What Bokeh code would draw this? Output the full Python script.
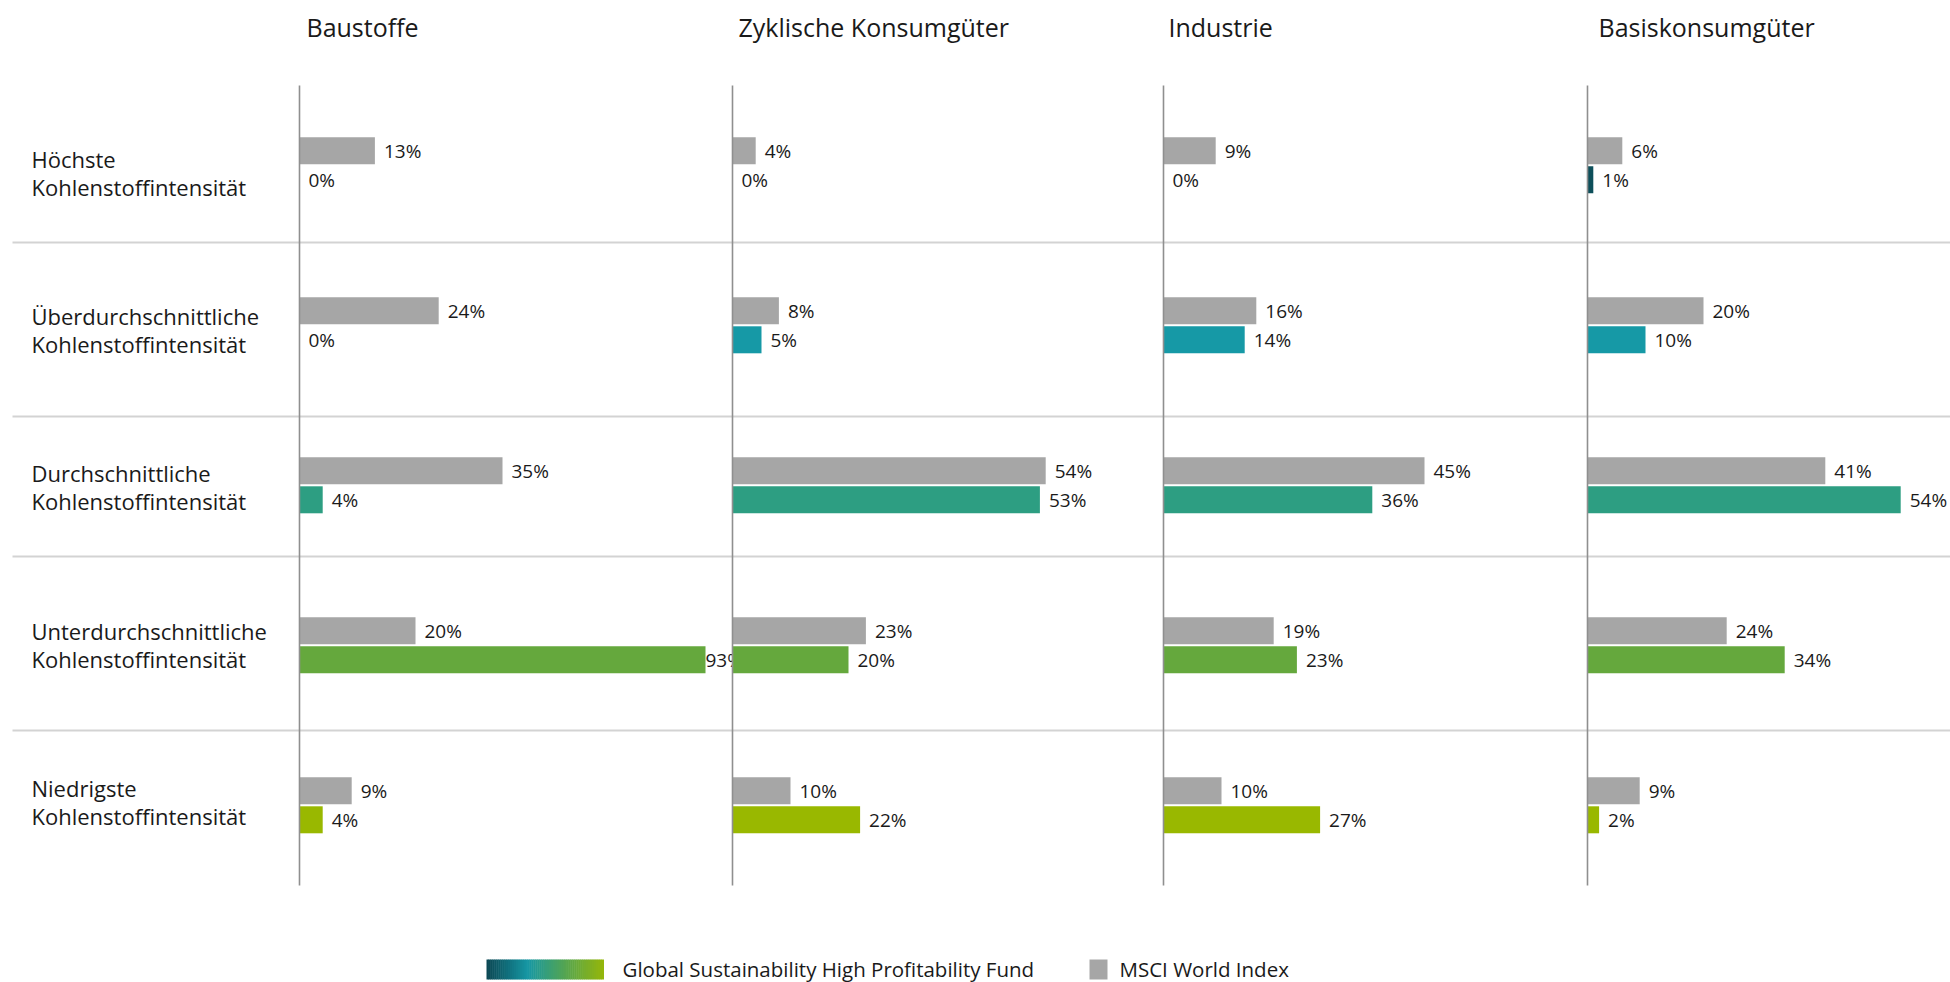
import numpy as np
from bokeh.plotting import figure
from bokeh.models import Range1d, ColumnDataSource
from bokeh.core.properties import value
from bokeh.embed import file_html
from bokeh.resources import INLINE

# ---------------- data ----------------
categories = [
    "Höchste\nKohlenstoffintensität",
    "Überdurchschnittliche\nKohlenstoffintensität",
    "Durchschnittliche\nKohlenstoffintensität",
    "Unterdurchschnittliche\nKohlenstoffintensität",
    "Niedrigste\nKohlenstoffintensität",
]
sectors = ["Baustoffe", "Zyklische Konsumgüter", "Industrie", "Basiskonsumgüter"]
msci_baustoffe = [13, 24, 35, 20, 9]
fund_baustoffe = [0, 0, 4, 93, 4]
msci_zyklisch = [4, 8, 54, 23, 10]
fund_zyklisch = [0, 5, 53, 20, 22]
msci_industrie = [9, 16, 45, 19, 10]
fund_industrie = [0, 14, 36, 23, 27]
msci_basis = [6, 20, 41, 24, 9]
fund_basis = [1, 10, 54, 34, 2]
legend_labels = ["Global Sustainability High Profitability Fund", "MSCI World Index"]

msci_values = [msci_baustoffe, msci_zyklisch, msci_industrie, msci_basis]
fund_values = [fund_baustoffe, fund_zyklisch, fund_industrie, fund_basis]

# ---------------- style / layout ----------------
W, H = 1950, 982
FONT = "Open Sans"
TXT = "#1a1a1a"
GRAY = "#a6a6a6"
ROW_COLORS = ["#0d4f5a", "#1699a6", "#2d9e82", "#65a83d", "#99b800"]
AXIS_X = [299, 732, 1163, 1587]          # panel zero lines (px)
TITLE_X = [306, 738, 1168, 1598]
PX_PER_PCT = 5.8
ROW0, ROW_STEP = 164.8, 160.0
BAR_H = 27 / ROW_STEP
BAR_OFF = 14.5 / ROW_STEP
CAP = 70.0                               # longest drawable bar within a panel (%)
PAD = 9 / PX_PER_PCT
GRID_Y = [242, 416, 556, 730]

p = figure(width=W, height=H, output_backend="svg", toolbar_location=None,
           x_range=Range1d(0, W), y_range=Range1d(H, 0),
           min_border=0, x_axis_type=None, y_axis_type=None)
p.outline_line_color = None
p.grid.visible = False
p.background_fill_color = "white"
p.extra_y_ranges = {"rows": Range1d(start=(H - ROW0) / ROW_STEP, end=-ROW0 / ROW_STEP)}
for k, ax in enumerate(AXIS_X):
    p.extra_x_ranges[f"panel{k}"] = Range1d(start=-ax / PX_PER_PCT, end=(W - ax) / PX_PER_PCT)

rows = np.arange(len(categories))

# gridlines
p.segment(x0=12, x1=W, y0=GRID_Y, y1=GRID_Y, line_color="#d3d3d3", line_width=2)

# value labels (drawn first so neighbouring bars can cover overflow)
bar_sources = []
for k in range(len(sectors)):
    m = np.array(msci_values[k], dtype=float)
    f = np.array(fund_values[k], dtype=float)
    m_len = np.minimum(m, CAP)
    f_len = np.minimum(f, CAP)
    m_lab_x = np.where(m > CAP, CAP, m + PAD)
    f_lab_x = np.where(f > CAP, CAP, f + PAD)
    src = ColumnDataSource(dict(
        y_m=rows - BAR_OFF, y_f=rows + BAR_OFF,
        m_len=m_len, f_len=f_len, m_lab_x=m_lab_x, f_lab_x=f_lab_x,
        m_lab=[f"{int(v)}%" for v in m], f_lab=[f"{int(v)}%" for v in f],
        f_col=ROW_COLORS,
    ))
    bar_sources.append(src)
    for xcol, ycol, tcol in (("m_lab_x", "y_m", "m_lab"), ("f_lab_x", "y_f", "f_lab")):
        p.text(x=xcol, y=ycol, text=tcol, source=src, x_range_name=f"panel{k}", y_range_name="rows",
               text_font=value(FONT), text_font_size="19px", text_color=TXT,
               text_baseline="middle", text_align="left")

# bars
for k, src in enumerate(bar_sources):
    p.hbar(y="y_m", left=0, right="m_len", height=BAR_H, source=src, fill_color=GRAY, line_color=None,
           x_range_name=f"panel{k}", y_range_name="rows")
    p.hbar(y="y_f", left=0, right="f_len", height=BAR_H, source=src, fill_color="f_col", line_color=None,
           x_range_name=f"panel{k}", y_range_name="rows")

# panel zero lines
for k in range(len(sectors)):
    p.segment(x0=0, x1=0, y0=85, y1=885, x_range_name=f"panel{k}", line_color="#8f8f8f", line_width=1.6)

# category labels (two lines)
line1 = [c.split("\n")[0] for c in categories]
line2 = [c.split("\n")[1] for c in categories]
lab_y = rows * 0.984 - 0.0425
p.text(x=31, y=lab_y, text=line1, y_range_name="rows", text_font=value(FONT), text_font_size="22px",
       text_color=TXT, text_baseline="middle")
p.text(x=31, y=lab_y + 28 / ROW_STEP, text=line2, y_range_name="rows", text_font=value(FONT),
       text_font_size="22px", text_color=TXT, text_baseline="middle")

# panel titles
p.text(x=TITLE_X, y=[26] * len(sectors), text=sectors, text_font=value(FONT), text_font_size="25px",
       text_color=TXT, text_baseline="middle")

# legend
def hex2rgb(h):
    return np.array([int(h[i:i + 2], 16) for i in (1, 3, 5)], dtype=float)

stops = [(0.0, "#0b4652"), (0.35, "#1697a4"), (0.7, "#5aa64a"), (1.0, "#95b60a")]
n = 60
t = (np.arange(n) + 0.5) / n
pos = [s[0] for s in stops]
cols = np.array([hex2rgb(s[1]) for s in stops])
grad = ["#%02x%02x%02x" % tuple(int(round(np.interp(tt, pos, cols[:, c]))) for c in range(3)) for tt in t]
gx0, gx1 = 486, 603
edges = np.linspace(gx0, gx1, n + 1)
p.quad(left=edges[:-1], right=edges[1:] + 0.5, bottom=[979] * n, top=[959] * n, fill_color=grad, line_color=None)
p.quad(left=[1089], right=[1107], bottom=[979], top=[959], fill_color=GRAY, line_color=None)
p.text(x=[622, 1119], y=[968, 968], text=legend_labels, text_font=value(FONT), text_font_size="20.5px",
       text_color=TXT, text_baseline="middle")

open("out.html", "w").write(file_html(p, INLINE))
